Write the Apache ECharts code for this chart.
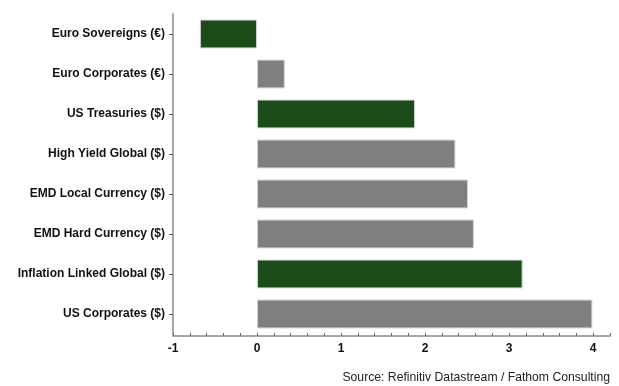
<!DOCTYPE html>
<html>
<head>
<meta charset="utf-8">
<script src="https://cdn.jsdelivr.net/npm/echarts@6/dist/echarts.min.js"></script>
<style>
  html, body { margin: 0; padding: 0; background: #fff; }
  #chart { width: 619px; height: 386px; }
</style>
</head>
<body>
<div id="chart"></div>
<script>
// Asset class returns, ordered top to bottom
const categories = [
  'Euro Sovereigns (€)',
  'Euro Corporates (€)',
  'US Treasuries ($)',
  'High Yield Global ($)',
  'EMD Local Currency ($)',
  'EMD Hard Currency ($)',
  'Inflation Linked Global ($)',
  'US Corporates ($)'
];
const returns = [-0.68, 0.33, 1.88, 2.36, 2.51, 2.58, 3.16, 3.99];
// Government-style bonds are highlighted in green
const highlighted = [true, false, true, false, false, false, true, false];
const xTickLabels = [-1, 0, 1, 2, 3, 4];
const sourceNote = 'Source: Refinitiv Datastream / Fathom Consulting';

const GREEN = '#1a4b18';
const GREY = '#7f7f7f';

const chart = echarts.init(document.getElementById('chart'), null, { renderer: 'canvas' });

const barData = returns.map((v, i) => ({
  value: v,
  itemStyle: {
    color: highlighted[i] ? GREEN : GREY
  }
}));

chart.setOption({
  animation: false,
  backgroundColor: '#ffffff',
  textStyle: { fontFamily: 'Liberation Sans, Arial, sans-serif' },
  grid: { left: 173, right: 9, top: 14, height: 320, containLabel: false },
  xAxis: {
    type: 'value',
    min: -1,
    max: 4.2,
    interval: 0.2,
    offset: 2,
    splitLine: { show: false },
    axisLine: { show: true, lineStyle: { color: '#a6a6a6', width: 2 } },
    axisTick: { show: true, inside: true, length: 3, lineStyle: { color: '#666', width: 1 } },
    axisLabel: {
      color: '#111',
      fontWeight: 'bold',
      fontSize: 12,
      margin: 7,
      formatter: function (v) {
        const r = Math.round(v);
        return (Math.abs(v - r) < 1e-6 && xTickLabels.indexOf(r) >= 0) ? String(r) : '';
      }
    }
  },
  yAxis: {
    type: 'category',
    data: categories,
    inverse: true,
    axisLine: { show: true, onZero: false, lineStyle: { color: '#a6a6a6', width: 2 } },
    axisTick: { show: true, alignWithLabel: true, length: 4, lineStyle: { color: '#555' } },
    axisLabel: { color: '#111', fontWeight: 'bold', fontSize: 12, margin: 8 },
    splitLine: { show: false }
  },
  series: [{
    type: 'bar',
    data: barData,
    barCategoryGap: '28%',
    itemStyle: { borderColor: '#cfcfcf', borderWidth: 1 },
    emphasis: { disabled: true }
  }],
  graphic: [{
    type: 'text',
    right: 9,
    top: 372,
    style: {
      text: sourceNote,
      fill: '#222',
      font: '12.2px Liberation Sans, Arial, sans-serif'
    }
  }]
});
</script>
</body>
</html>
